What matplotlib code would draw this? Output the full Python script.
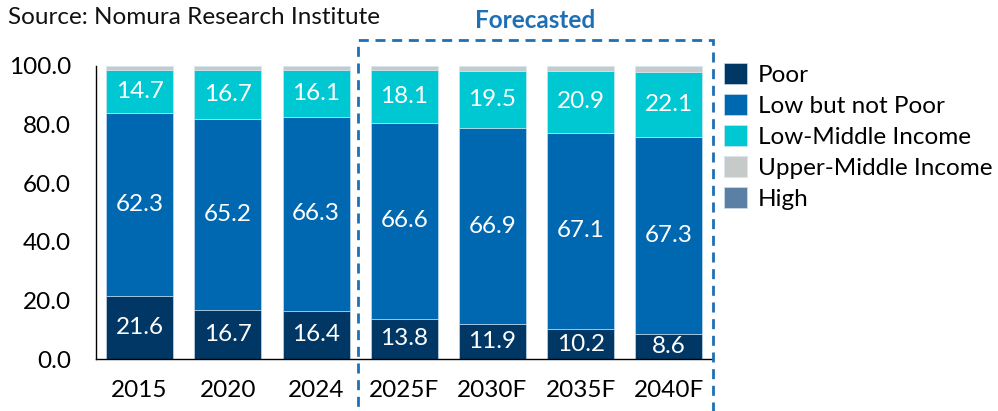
import matplotlib
matplotlib.use("Agg")
import matplotlib.pyplot as plt
from matplotlib.patches import Rectangle

plt.rcParams['font.family'] = ['Lato', 'DejaVu Sans']

# data
years = ["2015", "2020", "2024", "2025F", "2030F", "2035F", "2040F"]
poor = [21.6, 16.7, 16.4, 13.8, 11.9, 10.2, 8.6]
low_not_poor = [62.3, 65.2, 66.3, 66.6, 66.9, 67.1, 67.3]
low_middle = [14.7, 16.7, 16.1, 18.1, 19.5, 20.9, 22.1]
upper_middle = [1.3, 1.3, 1.1, 1.4, 1.6, 1.7, 1.9]
high = [0.1, 0.1, 0.1, 0.1, 0.1, 0.1, 0.1]

series = [
    ("Poor", poor, "#003764", True),
    ("Low but not Poor", low_not_poor, "#0068b0", True),
    ("Low-Middle Income", low_middle, "#00c8d2", True),
    ("Upper-Middle Income", upper_middle, "#c6cac8", False),
    ("High", high, "#5b80a6", False),
]

FS = 17.5

fig = plt.figure(figsize=(9.98, 4.11), dpi=100)
ax = fig.add_axes([95.5 / 998, 1 - 359 / 411, (713 - 95.5) / 998, 293 / 411])

x = range(len(years))
bottom = [0.0] * len(years)
for name, vals, color, show in series:
    bars = ax.bar(x, vals, width=0.76, bottom=bottom, color=color,
                  edgecolor="#d8e6f2", linewidth=0.4, label=name)
    if show:
        for b, v, btm in zip(bars, vals, bottom):
            ax.text(b.get_x() + b.get_width() / 2, btm + v / 2, f"{v:.1f}",
                    ha="center", va="center", color="white", fontsize=FS)
    bottom = [a + b for a, b in zip(bottom, vals)]

ax.set_xlim(-0.5, len(years) - 0.5)
ax.set_ylim(0, 100)
ax.set_yticks([0, 20, 40, 60, 80, 100])
ax.set_yticklabels([f"{t:.1f}" for t in [0, 20, 40, 60, 80, 100]], fontsize=FS)
ax.set_xticks(list(x))
ax.set_xticklabels(years, fontsize=FS)
ax.tick_params(length=0)
ax.tick_params(axis="x", pad=15)
ax.tick_params(axis="y", pad=17.5)
for s in ["top", "right"]:
    ax.spines[s].set_visible(False)
for s in ["left", "bottom"]:
    ax.spines[s].set_linewidth(1.0)

# forecast box
box = Rectangle((358 / 998, 1 - 460 / 411), (713 - 358) / 998, (460 - 40) / 411,
                transform=fig.transFigure, fill=False, edgecolor="#1f6fb5",
                linestyle=(0, (3.6, 2.4)), linewidth=2, clip_on=False)
fig.patches.append(box)
fig.text(535 / 998, 1 - 20 / 411, "Forecasted", ha="center", va="center",
         color="#1f6fb5", fontsize=FS, fontweight="bold")

fig.text(8 / 998, 1 - 17 / 411, "Source: Nomura Research Institute", ha="left",
         va="center", fontsize=FS, color="#111111")

leg = ax.legend(loc="upper left", bbox_to_anchor=(724 / 998, 1 - 63.5 / 411),
                bbox_transform=fig.transFigure, frameon=False, fontsize=FS,
                handlelength=0.95, handleheight=0.95, handletextpad=0.45,
                labelspacing=0.33, borderaxespad=0, borderpad=0)

fig.savefig("out.png", dpi=100)
